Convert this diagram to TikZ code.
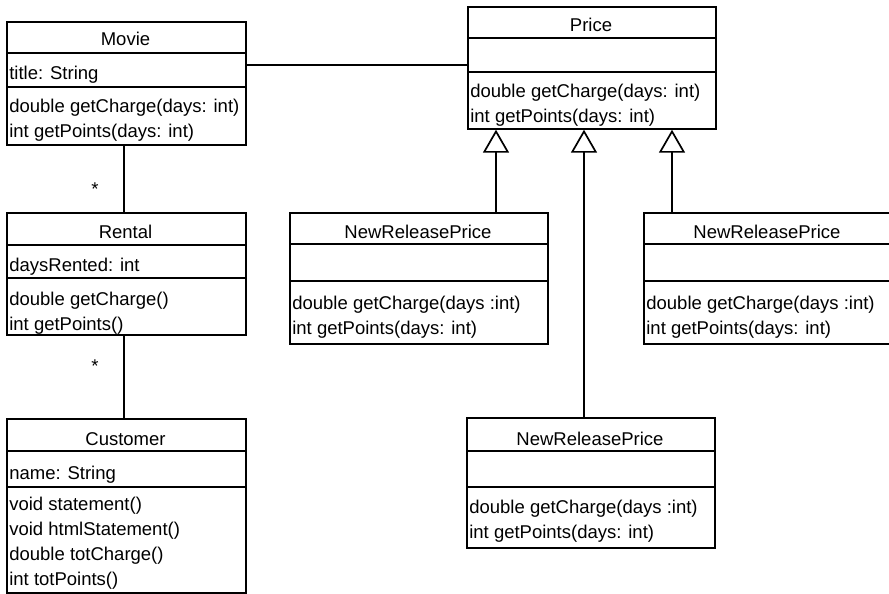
\documentclass[tikz,border=0pt]{standalone}
\usepackage{fontspec}
\setmainfont{Liberation Sans}
\usetikzlibrary{arrows.meta}
\tikzset{
  umlbox/.style={draw, anchor=north west, inner sep=0pt},
  umltext/.style={inner sep=0pt, font=\fontsize{18.5}{22}\selectfont},
  umltitle/.style={umltext, anchor=base},
  umlline/.style={umltext, anchor=base west},
  inh/.style={-{Triangle[open, width=26pt, length=23pt]}},
}
\newcommand\umlframe[7]{% name, L, T, R, B, S1, S2
  \node[umlbox, minimum width={(#4-#2)*1pt}, minimum height={(#5-#3)*1pt}] (#1) at (#2,#3) {};
  \draw (#1.west |- 0,#6) -- (#1.east |- 0,#6);
  \draw (#1.west |- 0,#7) -- (#1.east |- 0,#7);
}
\begin{document}
\begin{tikzpicture}[x=1pt, y=-1pt, line width=1.7pt]
\useasboundingbox[fill=white] (0,0) rectangle (889,594);

% Movie
\umlframe{movie}{6}{21}{245}{144}{53}{87}
\node[umltitle] (movieT) at (125.5,46) {Movie};
\node[umlline] (movieA) at (8.5,80) {title: String};
\node[umlline] (movieM1) at (8.5,112) {double getCharge(days: int)};
\node[umlline] (movieM2) at (8.5,137) {int getPoints(days: int)};

% Price
\umlframe{price}{467}{6}{715}{128}{38}{72}
\node[umltitle] (priceT) at (591,32) {Price};
\node[umlline] (priceM1) at (469.5,97) {double getCharge(days: int)};
\node[umlline] (priceM2) at (469.5,122) {int getPoints(days: int)};

% Rental
\umlframe{rental}{6}{212}{245}{334}{245}{278}
\node[umltitle] (rentalT) at (125.5,238) {Rental};
\node[umlline] (rentalA) at (8.5,271) {daysRented: int};
\node[umlline] (rentalM1) at (8.5,305) {double getCharge()};
\node[umlline] (rentalM2) at (8.5,330) {int getPoints()};

% Customer
\umlframe{customer}{6}{418}{245}{592}{451}{487}
\node[umltitle] (custT) at (125.5,445) {Customer};
\node[umlline] (custA) at (8.5,479) {name: String};
\node[umlline] (custM1) at (8.5,510) {void statement()};
\node[umlline] (custM2) at (8.5,535) {void htmlStatement()};
\node[umlline] (custM3) at (8.5,560) {double totCharge()};
\node[umlline] (custM4) at (8.5,585) {int totPoints()};

% NewReleasePrice 1
\umlframe{nrpa}{289}{212}{547}{343}{244}{281}
\node[umltitle] (nrpaT) at (418,238) {NewReleasePrice};
\node[umlline] (nrpaM1) at (291.5,309) {double getCharge(days :int)};
\node[umlline] (nrpaM2) at (291.5,334) {int getPoints(days: int)};

% NewReleasePrice 2
\umlframe{nrpb}{643}{212}{891}{343}{244}{281}
\node[umltitle] (nrpbT) at (767,238) {NewReleasePrice};
\node[umlline] (nrpbM1) at (645.5,309) {double getCharge(days :int)};
\node[umlline] (nrpbM2) at (645.5,334) {int getPoints(days: int)};

% NewReleasePrice 3
\umlframe{nrpc}{466}{417}{714}{547}{451}{487}
\node[umltitle] (nrpcT) at (590,445) {NewReleasePrice};
\node[umlline] (nrpcM1) at (468.5,513) {double getCharge(days :int)};
\node[umlline] (nrpcM2) at (468.5,538) {int getPoints(days: int)};

% associations
\draw (movie.east |- 0,65) -- (price.west |- 0,65);
\draw (movie.south -| 124,0) -- (rental.north -| 124,0);
\draw (rental.south -| 124,0) -- (customer.north -| 124,0);
\node[umltitle] (star1) at (95,195) {*};
\node[umltitle] (star2) at (95,372) {*};

% generalizations
\draw[inh] (nrpa.north -| 496,0) -- (price.south -| 496,0);
\draw[inh] (nrpc.north -| 584,0) -- (price.south -| 584,0);
\draw[inh] (nrpb.north -| 672,0) -- (price.south -| 672,0);
\end{tikzpicture}
\end{document}
